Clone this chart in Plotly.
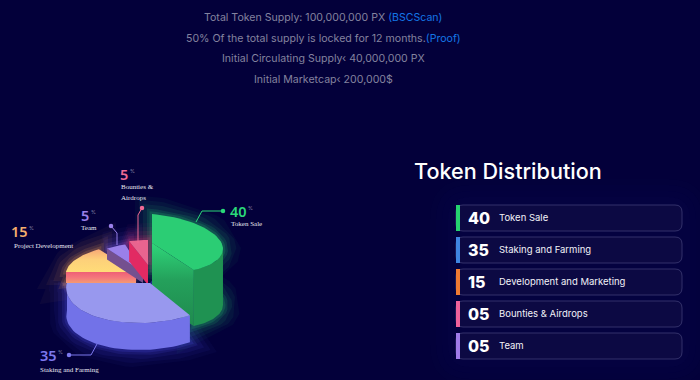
import math
import plotly.graph_objects as go

# ---- data ----
slice_names = ["Token Sale", "Staking and Farming", "Project Development", "Team", "Bounties & Airdrops"]
slice_values = [40, 35, 15, 5, 5]
list_values = ["40", "35", "15", "05", "05"]
list_names = ["Token Sale", "Staking and Farming", "Development and Marketing", "Bounties & Airdrops", "Team"]
info_lines = [
    ("Total Token Supply: 100,000,000 PX ", "(BSCScan)"),
    ("50% Of the total supply is locked for 12 months.", "(Proof)"),
    ("Initial Circulating Supply‹ 40,000,000 PX", ""),
    ("Initial Marketcap‹ 200,000$", ""),
]

# ---- styling / projection ----
BG = "#03003a"
SANS = "Inter"
SERIF = "Liberation Serif"
geom = [  # apex, projected unit vectors A and B, extrusion height, glow colour
    dict(apex=(152, 243), A=(71, 6), B=(0, -29), h=56, glow="45,220,120"),
    dict(apex=(150, 283), A=(83, 0), B=(11, -40), h=27, glow="90,90,255"),
    dict(apex=(136, 272), A=(70, 0), B=(5, -28), h=11, glow="255,170,90"),
    dict(apex=(143, 272), A=(64, 0), B=(2, -29), h=11, glow="130,100,240"),
    dict(apex=(148, 265), A=(61, 0), B=(0, -25), h=20, glow="240,60,120"),
]
list_colors = ["#25d26f", "#3f85e2", "#ef7a32", "#ef619b", "#a07be9"]


def P(g, deg):
    t = math.radians(deg)
    return (g["apex"][0] + g["A"][0] * math.sin(t) + g["B"][0] * math.cos(t),
            g["apex"][1] + g["A"][1] * math.sin(t) + g["B"][1] * math.cos(t))


def arc(g, a, b, n=40):
    return [P(g, a + (b - a) * i / n) for i in range(n + 1)]


def drop(pts, h):
    return [(x, y + h) for x, y in pts]


fig = go.Figure()


def poly(pts, color=None, grad=None, orient="vertical"):
    xs = [p[0] for p in pts] + [pts[0][0]]
    ys = [p[1] for p in pts] + [pts[0][1]]
    kw = {}
    if grad:
        kw["fillgradient"] = dict(type=orient, colorscale=grad)
    else:
        kw["fillcolor"] = color
    fig.add_trace(go.Scatter(x=xs, y=ys, mode="lines", fill="toself", line=dict(width=0, color="rgba(0,0,0,0)"),
                             hoverinfo="skip", showlegend=False, **kw))


def glow_line(pts, rgb, k=1.0):
    xs = [p[0] for p in pts] + [pts[0][0]]
    ys = [p[1] for p in pts] + [pts[0][1]]
    for w, a in [(34, .04), (26, .06), (18, .08), (10, .12), (5, .16)]:
        fig.add_trace(go.Scatter(x=xs, y=ys, mode="lines", line=dict(width=w, color=f"rgba({rgb},{a * k})"),
                                 hoverinfo="skip", showlegend=False))


# angular spans from the values
spans = []
c = 0
for v in slice_values:
    spans.append((c * 3.6, (c + v) * 3.6))
    c += v

# glow first
for g, (a, b) in zip(geom, spans):
    top = arc(g, a, b)
    low = drop(top, g["h"])
    glow_line([g["apex"]] + top + low[::-1], g["glow"])


def wall(g, a, b, **kw):
    t = arc(g, a, b)
    poly(t + drop(t, g["h"])[::-1], **kw)


def face(g, deg, **kw):
    e = P(g, deg)
    poly([g["apex"], e, (e[0], e[1] + g["h"]), (g["apex"][0], g["apex"][1] + g["h"])], **kw)


# Project development
g, (a, b) = geom[2], spans[2]
face(g, a, grad=[[0, "#f49a72"], [.5, "#f4767c"], [1, "#ef5f76"]])
poly([g["apex"]] + arc(g, a, b), grad=[[0, "#ffdc78"], [.55, "#fdd07a"], [1, "#f7a877"]])

# Team
g, (a, b) = geom[3], spans[3]
face(g, a, color="#74508f")
poly([g["apex"]] + arc(g, a, b), color="#9a80ea")

# Bounties
g, (a, b) = geom[4], spans[4]
face(g, a, color="#e22a63")
poly([g["apex"]] + arc(g, a, b), color="#e9648f")

# Token sale: only the part of the outer wall that faces the viewer
g, (a, b) = geom[0], spans[0]
wall(g, a + 0.22 * (b - a) * 2.8, b, color="#1f9252")
face(g, b, grad=[[0, "#1f8a4e"], [.55, "#24a05b"], [1, "#2fd67a"]])
poly([g["apex"]] + arc(g, a, b), color="#2bcd74")

# Staking
g, (a, b) = geom[1], spans[1]
wall(g, a, b, color="#7272e8")
poly([g["apex"]] + arc(g, a, b), color="#9898ee")

# ---- call-outs ----
callouts = [
    ([223, 202, 196], [211, 211, 222], "#2ad879"),
    ([69, 91, 97], [355, 355, 344], "#7d78ee"),
    ([111, 117, 117], [226, 233, 245], "#9a80ea"),
    ([142, 138, 138], [208, 215, 243], "#ef6a95"),
]
for xs, ys, col in callouts:
    fig.add_trace(go.Scatter(x=xs, y=ys, mode="lines", line=dict(width=1, color=col), hoverinfo="skip", showlegend=False))
    fig.add_trace(go.Scatter(x=xs[:1], y=ys[:1], mode="markers", marker=dict(size=4.5, color=col), hoverinfo="skip", showlegend=False))

ann = []


def text(x, y, s, size, color, font=SANS, anchor="left", weight=None):
    f = dict(family=font, size=size, color=color)
    if weight:
        f["weight"] = weight
    ann.append(dict(x=x - (2 if anchor == "left" else 0), y=y, text=s, font=f, xanchor=anchor, yanchor="middle",
                    showarrow=False, xref="x", yref="y", align=anchor))


big = [(230, 211, "#2ad879", 0), (40, 355, "#7d78ee", 1), (11, 231, "#f5ae6e", 2),
       (81, 215, "#9a80ea", 3), (120, 174, "#ef6a95", 4)]
for x, y, col, i in big:
    s = str(slice_values[i])
    text(x, y, s, 14.5, col, weight=600, font="Noto Sans")
    text(x + (18 if len(s) > 1 else 10), y - 3, "%", 5, "#8f8fb0")

text(246, 224, "Token Sale", 7, "#e8e8f0", SERIF, "center")
text(69, 370, "Staking and Farming", 7, "#e8e8f0", SERIF, "center")
text(43, 246, "Project Development", 7, "#e8e8f0", SERIF, "center")
text(89, 228, "Team", 7, "#e8e8f0", SERIF, "center")
text(121, 187, "Bounties &", 7, "#e8e8f0", SERIF)
text(121, 198, "Airdrops", 7, "#e8e8f0", SERIF)

# ---- header ----
for (a, b), y in zip(info_lines, [17, 38, 58, 79]):
    s = a + (f'<span style="color:#1476e6">{b}</span>' if b else "")
    text(323, y, s, 10.6, "#83839f", anchor="center")

# ---- list ----
text(414, 171, "Token Distribution", 21.6, "#ffffff", weight=500)
shapes = []
rows = [218, 250, 282, 314, 346]


def rrect(x0, y0, x1, y1, r):
    return (f"M{x0+r},{y0} L{x1-r},{y0} Q{x1},{y0} {x1},{y0+r} L{x1},{y1-r} Q{x1},{y1} {x1-r},{y1} "
            f"L{x0+r},{y1} Q{x0},{y1} {x0},{y1-r} L{x0},{y0+r} Q{x0},{y0} {x0+r},{y0} Z")


for pad, a in [(26, .012), (20, .016), (14, .02), (8, .025)]:
    shapes.append(dict(type="path", path=rrect(456 - pad, 205 - pad, 682 + pad, 359 + pad, 14 + pad),
                       fillcolor=f"rgba(70,70,170,{a})", line=dict(width=0), xref="x", yref="y", layer="below"))
for y, col, v, n in zip(rows, list_colors, list_values, list_names):
    shapes.append(dict(type="path", path=rrect(456, y - 13, 682, y + 13, 7), fillcolor="#0c0943",
                       line=dict(width=1, color="#33316a"), xref="x", yref="y", layer="below"))
    shapes.append(dict(type="rect", x0=456, x1=460, y0=y - 13, y1=y + 13, fillcolor=col, line=dict(width=0),
                       xref="x", yref="y", layer="below"))
    text(468, y, v, 16, "#ffffff", weight=800)
    text(499, y - 1, n, 9.5, "#f2f2f8")

fig.update_layout(
    width=700, height=380, margin=dict(l=0, r=0, t=0, b=0),
    paper_bgcolor=BG, plot_bgcolor=BG, showlegend=False,
    xaxis=dict(range=[0, 700], visible=False, fixedrange=True),
    yaxis=dict(range=[380, 0], visible=False, fixedrange=True),
    annotations=ann, shapes=shapes,
)
fig.write_html("out.html", config={"displayModeBar": False},
               post_script="document.body.style.margin='0';document.body.style.background='#03003a';")
